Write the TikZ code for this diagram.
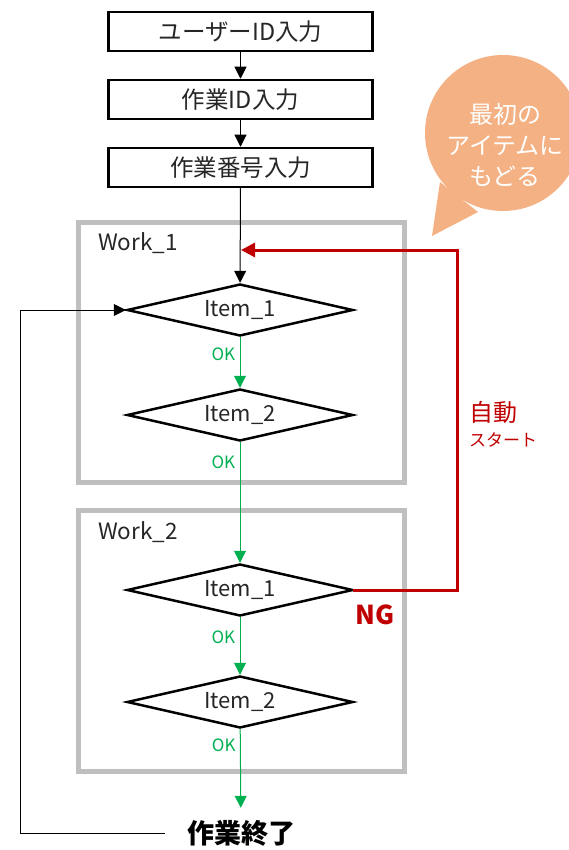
\documentclass[tikz,border=0pt]{standalone}
\usepackage{fontspec}
\setmainfont{Noto Sans CJK JP}
\usetikzlibrary{shapes.geometric,arrows.meta}

\definecolor{ngred}{HTML}{C00000}
\definecolor{okgreen}{HTML}{00B050}
\definecolor{framegray}{HTML}{BFBFBF}
\definecolor{bubblefill}{HTML}{F4B183}
\definecolor{textgray}{HTML}{262626}

\tikzset{
  inputbox/.style={draw, line width=2.5pt, minimum width=264pt, minimum height=39pt,
    text=textgray, font=\fontsize{23.5}{27}\selectfont},
  check/.style={diamond, draw, line width=2.5pt, minimum width=226pt, minimum height=52pt,
    aspect=4.3, inner sep=0pt, text=textgray, font=\fontsize{22}{26}\selectfont},
  flow/.style={line width=1pt, -{Triangle[length=12pt,width=12pt]}},
  okflow/.style={flow, okgreen},
  ngflow/.style={line width=3pt, ngred, -{Triangle[length=14pt,width=14pt]}},
  oklabel/.style={okgreen, font=\fontsize{17}{20}\selectfont, left, xshift=-1pt},
  workframe/.style={framegray, line width=5pt},
  worklabel/.style={text=textgray, font=\fontsize{22.5}{26}\selectfont},
}

\begin{document}
\begin{tikzpicture}[x=1pt, y=-1pt]

    \useasboundingbox (0,0) rectangle (569,850);

    % speech bubble
    \fill[bubblefill] (503,133) circle [radius=78pt];
    \fill[bubblefill] (432,236) -- (440,182) -- (478,212) -- cycle;
    \node[white, align=center, font=\fontsize{24}{31}\selectfont] (bubtext) at (505,145)
    	{最初の\\アイテムに\\もどる};

    % input steps
    \node[inputbox] (userid) at (240.5,31.5) {ユーザーID入力};
    \node[inputbox] (workid) at (240.5,99.5) {作業ID入力};
    \node[inputbox] (workno) at (240.5,167.5) {作業番号入力};

    % work frames
    \draw[workframe] (78.5,222.5) rectangle (404.5,482.5);
    \node[worklabel] (work1) at (138,243) {Work\_1};
    \draw[workframe] (78.5,510.5) rectangle (404.5,771.5);
    \node[worklabel] (work2) at (138,532) {Work\_2};

    % checks
    \node[check] (a1) at (240,310) {Item\_1};
    \node[check] (a2) at (240,415) {Item\_2};
    \node[check] (b1) at (240,590) {Item\_1};
    \node[check] (b2) at (240,702) {Item\_2};

    \node[inner xsep=22pt, inner ysep=12pt, text=black,
    	font=\bfseries\fontsize{27}{31}\selectfont] (finish) at (241,833) {作業終了};

    \coordinate (ngtop) at (457,250);
    \coordinate (back) at (241,250);
    \coordinate (loopcorner) at (20,833);

    \draw[flow] (userid) -- (workid);
    \draw[flow] (workid) -- (workno);
    \draw[flow] (workno) -- (a1);

    \draw[okflow] (a1) -- node[oklabel, pos=.34] {OK} (a2);
    \draw[okflow] (a2) -- node[oklabel, pos=.17] {OK} (b1);
    \draw[okflow] (b1) -- node[oklabel, pos=.34] {OK} (b2);
    \draw[okflow] (b2) -- node[oklabel, pos=.2] {OK} (finish);

    \draw[flow] (finish.west) -- (loopcorner) |- (a1.west); % back to first item

    \draw[ngflow, line cap=rect] (b1.east) -| (ngtop) -- (back); % NG return

    \node[ngred, font=\bfseries\fontsize{26}{30}\selectfont] (ng) at (375,615) {NG};
    \node[ngred, font=\fontsize{24}{28}\selectfont] (auto) at (493,412) {自動};
    \node[ngred, font=\fontsize{17}{20}\selectfont] (start) at (503,440) {スタート};

\end{tikzpicture}
\end{document}
